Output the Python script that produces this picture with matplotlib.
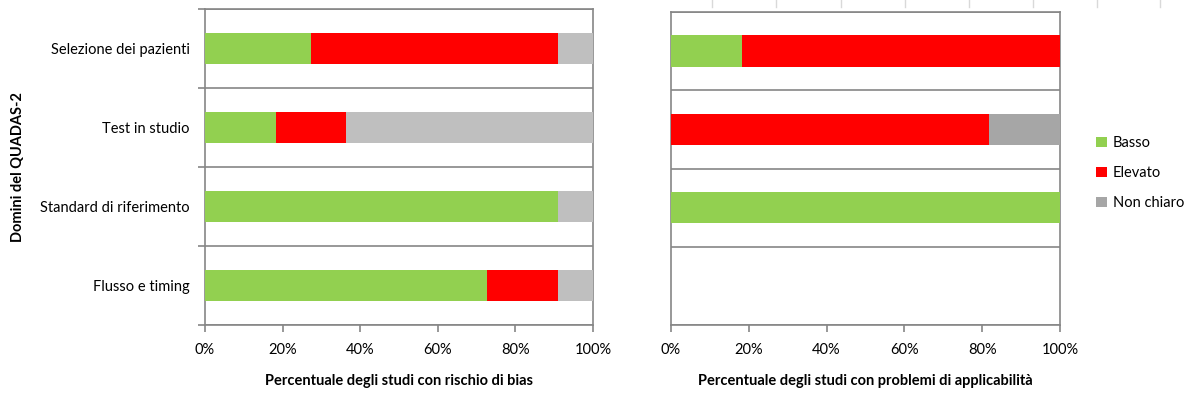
import matplotlib
matplotlib.use('Agg')
import matplotlib.pyplot as plt
import numpy as np
from matplotlib.lines import Line2D

plt.rcParams['font.family'] = ['Lato', 'DejaVu Sans']

domains = ['Selezione dei pazienti', 'Test in studio', 'Standard di riferimento', 'Flusso e timing']
series = ['Basso', 'Elevato', 'Non chiaro']

# risk of bias (% of studies)
bias_basso = [27.3, 18.2, 90.9, 72.7]
bias_elevato = [63.6, 18.2, 0.0, 18.2]
bias_nonchiaro = [9.1, 63.6, 9.1, 9.1]

# applicability concerns (% of studies), no data for the last domain
appl_basso = [18.2, 0.0, 100.0, 0.0]
appl_elevato = [81.8, 81.8, 0.0, 0.0]
appl_nonchiaro = [0.0, 18.2, 0.0, 0.0]

green = '#92D050'
red = '#FF0000'
grey_left = '#BFBFBF'
grey_right = '#A6A6A6'
line_col = '#868686'

fig = plt.figure(figsize=(11.94, 3.97), dpi=100)
ax1 = fig.add_axes([205/1194, 1-325/397, 388/1194, 316/397])
ax2 = fig.add_axes([671/1194, 1-325/397, 389/1194, 313/397])

ypos = np.arange(len(domains)) + 0.5


def draw(ax, vals, colors, xlabel):
    left = np.zeros(len(domains))
    for v, c, name in zip(vals, colors, series):
        v = np.array(v)
        ax.barh(ypos, v, left=left, height=0.4, color=c, label=name, zorder=3)
        left += v
    ax.set_xlim(0, 100)
    ax.set_ylim(len(domains), 0)
    ax.set_xticks(np.arange(0, 101, 20))
    ax.set_xticklabels(['%d%%' % t for t in range(0, 101, 20)], fontsize=10.5)
    ax.set_yticks(np.arange(0, len(domains) + 1))
    ax.set_yticklabels([])
    ax.grid(axis='y', color=line_col, linewidth=1.2, zorder=1)
    for s in ax.spines.values():
        s.set_color(line_col)
        s.set_linewidth(1.2)
    ax.tick_params(axis='x', direction='out', length=5, color=line_col, width=1.2, pad=8)
    ax.set_xlabel(xlabel, fontsize=10.5, fontweight='bold', labelpad=12)


draw(ax1, [bias_basso, bias_elevato, bias_nonchiaro], [green, red, grey_left],
     'Percentuale degli studi con rischio di bias')
ax1.tick_params(axis='y', direction='out', length=5, color=line_col, width=1.2)
ax1.set_yticks(ypos, minor=True)
ax1.set_yticklabels(domains, minor=True, fontsize=10.5)
ax1.tick_params(axis='y', which='minor', length=0, pad=11)
ax1.set_ylabel('Domini del QUADAS-2', fontsize=10.5, fontweight='bold')
ax1.yaxis.set_label_coords(-0.465, 0.5)

draw(ax2, [appl_basso, appl_elevato, appl_nonchiaro], [green, red, grey_right],
     'Percentuale degli studi con problemi di applicabilità')
ax2.tick_params(axis='y', length=0)

leg = ax2.legend(loc='center left', bbox_to_anchor=(1.06, 0.485), frameon=False,
                 fontsize=10.5, handlelength=0.7, handleheight=0.7,
                 handletextpad=0.4, labelspacing=1.1)

# faint grid remnants at the top edge
for xp in [712, 776, 841, 905, 969, 1033, 1097, 1160]:
    fig.add_artist(Line2D([xp/1194, xp/1194], [1, 1-7/397], color='#D9D9D9', linewidth=1))

fig.savefig('out.png', dpi=100)
